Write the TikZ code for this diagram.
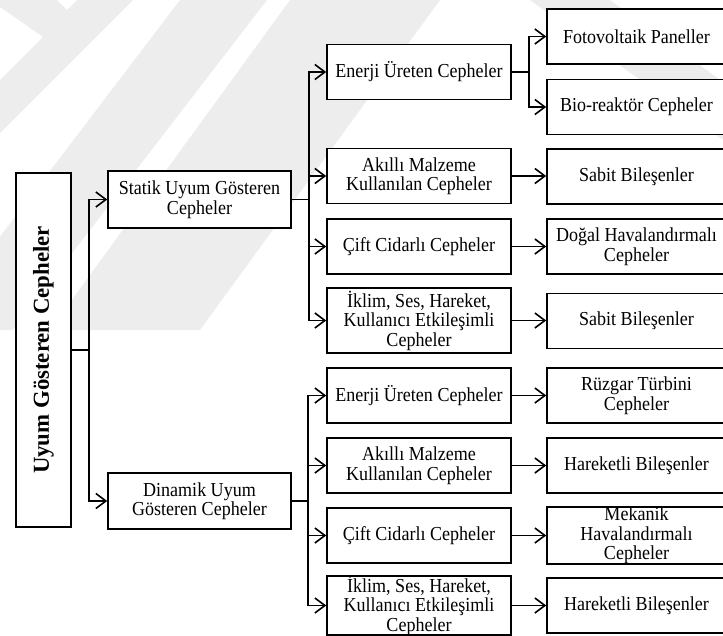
\documentclass[tikz,border=0pt]{standalone}
\usepackage{fontspec}
\setmainfont{Liberation Serif}
% slightly condensed face for the box labels
\newfontfamily\boxfont{Liberation Serif}[FakeStretch=0.91]
\usetikzlibrary{arrows.meta}
\begin{document}
\begin{tikzpicture}[x=1pt,y=-1pt,
  box/.style={draw, line width=1.6pt, fill=white, inner sep=0pt, align=center,
              font=\boxfont\fontsize{19.8}{19.5}\selectfont},
  midbox/.style={box, minimum width=184pt, minimum height=55pt},
  leafbox/.style={box, minimum width=179pt, minimum height=55pt},
  wire/.style={line width=1.6pt},
  link/.style={line width=1.6pt, -{Straight Barb[length=10pt,width=15pt,line width=1.6pt]}},
  wmark/.style={fill=black!7, draw=none}
]
\useasboundingbox (0,0) rectangle (723,635);

% faint watermark bands in the background
\begin{scope}
  \clip (0,0) rectangle (723,635);
  \fill[wmark] (0,0) -- (57,0) -- (67,10) -- (77,0) -- (133,0) -- (0,133) -- (0,80) -- (43,37) -- (0,7) -- cycle;
  \fill[wmark] (180,0) -- (267,0) -- (13,330) -- (-71,330) -- cycle;
  \fill[wmark] (290,0) -- (440,0) -- (200,330) -- (50,330) -- cycle;
  \fill[wmark] (530,0) -- (610,0) -- (723,82) -- (723,140) -- cycle;
\end{scope}

% root
\node[box, minimum width=55pt, minimum height=354pt] (root) at (43.5,350)
  {\rotatebox{90}{\rmfamily\bfseries\fontsize{22.8}{24}\selectfont Uyum Gösteren Cepheler}};

% first level
\node[box, minimum width=183pt, minimum height=57pt] (statik) at (199.5,199.5)
  {Statik Uyum Gösteren\\Cepheler};
\node[box, minimum width=183pt, minimum height=56pt] (dinamik) at (199.5,501)
  {Dinamik Uyum\\Gösteren Cepheler};

% second level, static branch
\node[midbox] (e1) at (419,72) {Enerji Üreten Cepheler};
\node[midbox] (a1) at (419,176) {Akıllı Malzeme\\Kullanılan Cepheler};
\node[midbox] (c1) at (419,246.5) {Çift Cidarlı Cepheler};
\node[midbox, minimum height=65pt] (i1) at (419,320.5) {İklim, Ses, Hareket,\\Kullanıcı Etkileşimli\\Cepheler};

% second level, dynamic branch
\node[midbox] (e2) at (419,395.5) {Enerji Üreten Cepheler};
\node[midbox] (a2) at (419,465.5) {Akıllı Malzeme\\Kullanılan Cepheler};
\node[midbox] (c2) at (419,535.5) {Çift Cidarlı Cepheler};
\node[midbox] (i2) at (419,605.5) {İklim, Ses, Hareket,\\Kullanıcı Etkileşimli\\Cepheler};

% third level
\node[leafbox] (f)  at (636.5,36.5) {Fotovoltaik Paneller};
\node[leafbox] (b)  at (636.5,107) {Bio-reaktör Cepheler};
\node[leafbox] (s1) at (636.5,176.5) {Sabit Bileşenler};
\node[leafbox] (d1) at (636.5,246.5) {Doğal Havalandırmalı\\Cepheler};
\node[leafbox] (s2) at (636.5,321) {Sabit Bileşenler};
\node[leafbox] (r)  at (636.5,395.5) {Rüzgar Türbini\\Cepheler};
\node[leafbox] (h1) at (636.5,465.5) {Hareketli Bileşenler};
\node[leafbox] (m)  at (636.5,535.5) {Mekanik\\Havalandırmalı\\Cepheler};
\node[leafbox] (h2) at (636.5,605.5) {Hareketli Bileşenler};

% bus junctions
\coordinate (j0) at (89,350);
\coordinate (j1) at (309,199.5);
\coordinate (j2) at (308,501);
\coordinate (j3) at (529,72);

% root to first level
\draw[wire] (root.east) -- (j0);
\draw[link] (j0) |- (statik.west);
\draw[link] (j0) |- (dinamik.west);

% first level to second level
\draw[wire] (statik.east) -- (j1);
\foreach \n in {e1,a1,c1,i1} \draw[link] (j1) |- (\n.west);
\draw[wire] (dinamik.east) -- (j2);
\foreach \n in {e2,a2,c2,i2} \draw[link] (j2) |- (\n.west);

% second level to third level
\draw[wire] (e1.east) -- (j3);
\draw[link] (j3) |- (f.west);
\draw[link] (j3) |- (b.west);
\draw[link] (a1.east) -- (a1.east -| s1.west);
\draw[link] (c1.east) -- (c1.east -| d1.west);
\draw[link] (i1.east) -- (i1.east -| s2.west);
\draw[link] (e2.east) -- (e2.east -| r.west);
\draw[link] (a2.east) -- (a2.east -| h1.west);
\draw[link] (c2.east) -- (c2.east -| m.west);
\draw[link] (i2.east) -- (i2.east -| h2.west);
\end{tikzpicture}
\end{document}
